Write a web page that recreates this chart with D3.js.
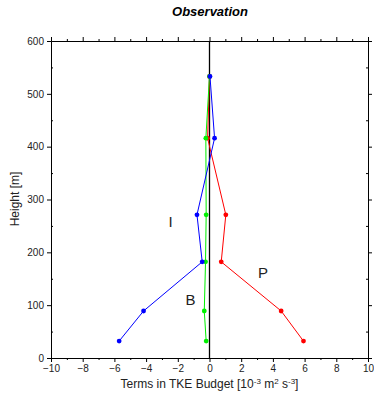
<!DOCTYPE html>
<html>
<head>
<meta charset="utf-8">
<script src="https://cdn.jsdelivr.net/npm/d3@7"></script>
<style>
  html, body { margin: 0; padding: 0; background: #fff; }
  svg { display: block; font-family: "Liberation Sans", Arial, sans-serif; }
</style>
</head>
<body>
<svg id="chart" width="374" height="397"></svg>
<script>
// ---- data ----
const heights = [32, 89, 182, 271, 416, 533];
const seriesNames = ["P", "B", "I"];
const valuesP = [5.93, 4.52, 0.74, 1.03, -0.12, 0.0];
const valuesB = [-0.21, -0.33, -0.25, -0.21, -0.23, 0.0];
const valuesI = [-5.70, -4.16, -0.46, -0.79, 0.32, 0.03];
const labelX = [3.37, -1.2, -2.45];
const labelY = [161, 110, 258];
const xTicks = [-10, -8, -6, -4, -2, 0, 2, 4, 6, 8, 10];
const xMinor = [-9, -7, -5, -3, -1, 1, 3, 5, 7, 9];
const yTicks = [0, 100, 200, 300, 400, 500, 600];
const yMinor = [50, 150, 250, 350, 450, 550];

const colors = { P: "#ff0000", B: "#00f000", I: "#0000ff" };
const seriesVals = { P: valuesP, B: valuesB, I: valuesI };

const svg = d3.select("#chart");
const L = 51, R = 368, T = 41, B = 358;
const x = d3.scaleLinear().domain([-10, 10]).range([L, R]);
const y = d3.scaleLinear().domain([0, 600]).range([B, T]);

function styleAxis(g) {
  g.selectAll("path").attr("stroke", "#000").attr("stroke-width", 1);
  g.selectAll("line").attr("stroke", "#000").attr("stroke-width", 1);
  g.selectAll("text").attr("fill", "#222").style("font-size", "10px")
    .style("font-family", "'Liberation Sans', Arial, sans-serif");
}

// bottom
svg.append("g").attr("transform", `translate(0,${B})`)
  .call(d3.axisBottom(x).tickValues(xTicks).tickSize(4).tickPadding(3).tickSizeOuter(0).tickFormat(d3.format("d")))
  .call(styleAxis);
svg.append("g").attr("transform", `translate(0,${B})`)
  .call(d3.axisBottom(x).tickValues(xMinor).tickSize(2).tickSizeOuter(0).tickFormat(""))
  .call(styleAxis);
// top
svg.append("g").attr("transform", `translate(0,${T})`)
  .call(d3.axisTop(x).tickValues(xTicks).tickSize(4).tickSizeOuter(0).tickFormat(""))
  .call(styleAxis);
svg.append("g").attr("transform", `translate(0,${T})`)
  .call(d3.axisTop(x).tickValues(xMinor).tickSize(2).tickSizeOuter(0).tickFormat(""))
  .call(styleAxis);
// left
svg.append("g").attr("transform", `translate(${L},0)`)
  .call(d3.axisLeft(y).tickValues(yTicks).tickSize(4).tickPadding(3).tickSizeOuter(0))
  .call(styleAxis);
svg.append("g").attr("transform", `translate(${L},0)`)
  .call(d3.axisRight(y).tickValues(yMinor).tickSize(2).tickSizeOuter(0).tickFormat(""))
  .call(styleAxis);
// right
svg.append("g").attr("transform", `translate(${R},0)`)
  .call(d3.axisRight(y).tickValues(yTicks).tickSize(4).tickSizeOuter(0).tickFormat(""))
  .call(styleAxis);
svg.append("g").attr("transform", `translate(${R},0)`)
  .call(d3.axisLeft(y).tickValues(yMinor).tickSize(2).tickSizeOuter(0).tickFormat(""))
  .call(styleAxis);

// zero line
svg.append("line")
  .attr("x1", x(0)).attr("x2", x(0)).attr("y1", y(0)).attr("y2", y(600))
  .attr("stroke", "#000").attr("stroke-width", 1.3);

// series
const line = d3.line().x(d => x(d[0])).y(d => y(d[1]));
seriesNames.forEach((name, i) => {
  const pts = seriesVals[name].map((v, j) => [v, heights[j]]);
  svg.append("path").datum(pts)
    .attr("d", line).attr("fill", "none")
    .attr("stroke", colors[name]).attr("stroke-width", 1);
  svg.append("g").selectAll("circle").data(pts).join("circle")
    .attr("cx", d => x(d[0])).attr("cy", d => y(d[1])).attr("r", 2.4)
    .attr("fill", colors[name]);
});

// series labels
seriesNames.forEach((name, i) => {
  svg.append("text")
    .attr("x", x(labelX[i])).attr("y", y(labelY[i]))
    .attr("text-anchor", "middle").attr("dominant-baseline", "central")
    .style("font-size", "15px").attr("fill", "#222")
    .text(name);
});

// title
svg.append("text").attr("x", 210).attr("y", 16).attr("text-anchor", "middle")
  .style("font-size", "13px").style("font-weight", "bold").style("font-style", "italic")
  .attr("fill", "#000").text("Observation");

// x axis title
const xt = svg.append("text").attr("x", 209.5).attr("y", 388).attr("text-anchor", "middle")
  .style("font-size", "12px").attr("fill", "#222");
xt.append("tspan").text("Terms in TKE Budget [10");
xt.append("tspan").attr("dy", -4).style("font-size", "8px").text("-3");
xt.append("tspan").attr("dy", 4).text(" m");
xt.append("tspan").attr("dy", -4).style("font-size", "8px").text("2");
xt.append("tspan").attr("dy", 4).text(" s");
xt.append("tspan").attr("dy", -4).style("font-size", "8px").text("-3");
xt.append("tspan").attr("dy", 4).text("]");

// y axis title
svg.append("text").attr("transform", "translate(19,199) rotate(-90)")
  .attr("text-anchor", "middle").style("font-size", "12px").attr("fill", "#222")
  .text("Height [m]");
</script>
</body>
</html>
